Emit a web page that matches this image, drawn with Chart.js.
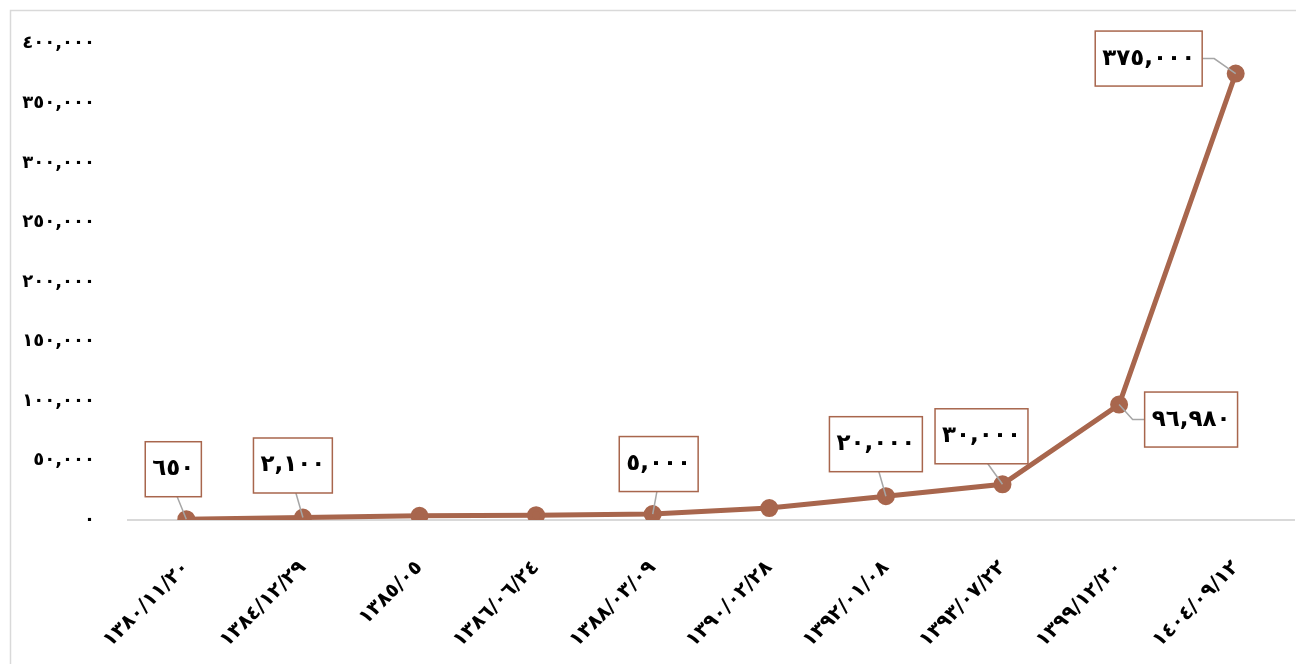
<!DOCTYPE html>
<html>
<head>
<meta charset="utf-8">
<script src="https://cdn.jsdelivr.net/npm/chart.js@4.4.1/dist/chart.umd.min.js"></script>
<style>
  html, body { margin: 0; padding: 0; background: #fff; }
  #wrap { width: 1296px; height: 664px; position: relative; }
</style>
</head>
<body>
<div id="wrap"><canvas id="chart" width="1296" height="664"></canvas></div>
<script>
// data
const categories = ['١٣٨٠/١١/٢٠', '١٣٨٤/١٢/٢٩', '١٣٨٥/٠٥', '١٣٨٦/٠٦/٢٤', '١٣٨٨/٠٣/٠٩',
                    '١٣٩٠/٠٢/٢٨', '١٣٩٢/٠١/٠٨', '١٣٩٣/٠٧/٢٢', '١٣٩٩/١٢/٢٠', '١٤٠٤/٠٩/١٢'];
const values = [650, 2100, 3500, 4000, 5000, 10000, 20000, 30000, 96980, 375000];
const yMin = 0, yMax = 400000, yStep = 50000;
// points that carry a value box
const labelledPoints = [0, 1, 4, 6, 7, 8, 9];

// where each value box sits relative to its point (style only)
const labelOffsets = {
    0: [-13, -50], 1: [-10, -52], 4: [6, -50], 6: [-10, -52],
    7: [-21, -48], 8: [72, 15], 9: [-87, -15]
};

const lineColor = '#A8664D';
const fontFamily = '"DejaVu Sans", sans-serif';

function faDigits(n) {
    return n.toLocaleString('en-US')
        .replace(/\d/g, d => '٠١٢٣٤٥٦٧٨٩'[d]);
}

const frame = {
    id: 'frame',
    beforeDraw(chart) {
        let ctx = chart.ctx;
        ctx.save();
        ctx.strokeStyle = '#d9d9d9';
        ctx.lineWidth = 1.5;
        ctx.beginPath();
        ctx.moveTo(10.5, 664);
        ctx.lineTo(10.5, 10.5);
        ctx.lineTo(1296, 10.5);
        ctx.stroke();
        ctx.restore();
    }
};

const valueBoxes = {
    id: 'valueBoxes',
    afterDatasetsDraw(chart) {
        let ctx = chart.ctx;
        let meta = chart.getDatasetMeta(0);
        ctx.save();
        ctx.font = 'bold 23px ' + fontFamily;
        labelledPoints.forEach(i => {
            let pt = meta.data[i];
            let off = labelOffsets[i];
            let text = faDigits(values[i]);
            let w = ctx.measureText(text).width + 14;
            let h = 55;
            let cx = pt.x + off[0], cy = pt.y + off[1];

            // leader line
            ctx.strokeStyle = '#a6a6a6';
            ctx.lineWidth = 1.5;
            ctx.beginPath();
            if (Math.abs(off[0]) > w / 2) {
                let side = off[0] > 0 ? cx - w / 2 : cx + w / 2;
                let dir = off[0] > 0 ? -1 : 1;
                ctx.moveTo(side, cy);
                ctx.lineTo(side + dir * 12, cy);
                ctx.lineTo(pt.x, pt.y);
            } else {
                ctx.moveTo(cx + (pt.x - cx) * 0.3, cy + h / 2);
                ctx.lineTo(pt.x, pt.y);
            }
            ctx.stroke();

            // box
            ctx.fillStyle = '#fff';
            ctx.fillRect(cx - w / 2, cy - h / 2, w, h);
            ctx.strokeStyle = lineColor;
            ctx.lineWidth = 1.5;
            ctx.strokeRect(cx - w / 2, cy - h / 2, w, h);

            ctx.fillStyle = '#000';
            ctx.textAlign = 'center';
            ctx.textBaseline = 'middle';
            ctx.fillText(text, cx, cy);
        });
        ctx.restore();
    }
};

new Chart(document.getElementById('chart'), {
    type: 'line',
    data: {
        labels: categories,
        datasets: [{
            data: values,
            borderColor: lineColor,
            backgroundColor: lineColor,
            pointBackgroundColor: lineColor,
            pointBorderColor: lineColor,
            borderWidth: 5,
            pointRadius: 6.5,
            tension: 0
        }]
    },
    options: {
        responsive: false,
        animation: false,
        layout: { autoPadding: false, padding: { top: 43, right: 2, left: 0, bottom: 0 } },
        plugins: { legend: { display: false }, tooltip: { enabled: false } },
        scales: {
            x: {
                offset: true,
                grid: { display: false },
                border: { display: true, color: '#d9d9d9', width: 2 },
                ticks: {
                    color: '#000',
                    font: { family: fontFamily, size: 20, weight: 'bold' },
                    minRotation: 45, maxRotation: 45,
                    autoSkip: false,
                    padding: 28
                },
                afterFit: s => { s.height = 144; s.paddingRight = 0; s.paddingLeft = 0; }
            },
            y: {
                min: yMin, max: yMax,
                grid: { display: false, drawTicks: false },
                border: { display: false },
                ticks: {
                    stepSize: yStep,
                    color: '#000',
                    font: { family: fontFamily, size: 18, weight: 'bold' },
                    padding: 33,
                    callback: v => faDigits(v)
                },
                afterFit: s => { s.width = 128; }
            }
        }
    },
    plugins: [frame, valueBoxes]
});
</script>
</body>
</html>
